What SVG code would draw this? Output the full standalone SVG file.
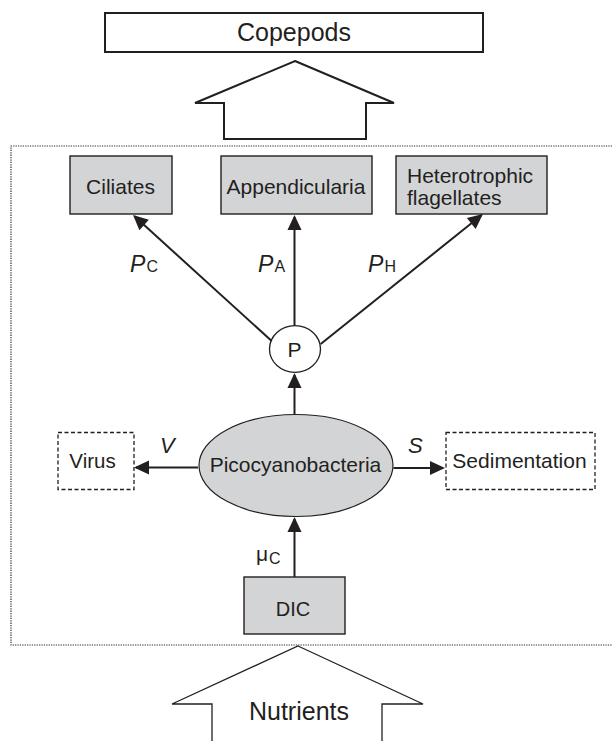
<svg xmlns="http://www.w3.org/2000/svg" width="612" height="741" viewBox="0 0 612 741">
<style>
text{font-family:"Liberation Sans",Arial,sans-serif;fill:#231f20}
.c{text-anchor:middle}
.gbox{fill:#d3d4d6;stroke:#231f20;stroke-width:1.4}
.dbox{fill:#fff;stroke:#231f20;stroke-width:1.3;stroke-dasharray:4 2.5}
.conn{stroke:#231f20;stroke-width:2;fill:none}
.it{font-style:italic}
</style>
<defs>
<marker id="ah" markerUnits="userSpaceOnUse" markerWidth="16" markerHeight="15" refX="13" refY="7" orient="auto" overflow="visible">
<path d="M0,0 L15,7 L0,14 z" fill="#231f20"/>
</marker>
</defs>
<rect width="612" height="741" fill="#fff"/>

<g id="boundary">
<path d="M612,146 H11 V645 H612" fill="none" stroke="#333" stroke-width="1.2" stroke-dasharray="1.3 1.1"/>
</g>

<g id="copepods">
<rect x="105" y="13" width="378" height="39" fill="#fff" stroke="#231f20" stroke-width="2"/>
<text x="294" y="41" class="c" font-size="25">Copepods</text>
</g>

<g id="up-arrow">
<path d="M295,61 L394,103 L366,103 L366,139 L224,139 L224,103 L195,103 Z" fill="#fff" stroke="#231f20" stroke-width="2" stroke-linejoin="miter"/>
</g>

<g id="ciliates">
<rect x="70" y="156" width="102" height="58" class="gbox"/>
<text x="120.5" y="194" class="c" font-size="21">Ciliates</text>
</g>

<g id="appendicularia">
<rect x="221" y="156" width="151" height="58" class="gbox"/>
<text x="296" y="194" class="c" font-size="21">Appendicularia</text>
</g>

<g id="heterotrophic-flagellates">
<rect x="396" y="156" width="151" height="58" class="gbox"/>
<text x="407" y="183" font-size="21">Heterotrophic</text>
<text x="407" y="205" font-size="21">flagellates</text>
</g>

<g id="p-node">
<ellipse cx="295" cy="349" rx="25.5" ry="23.3" fill="#fff" stroke="#231f20" stroke-width="1.3"/>
<text x="294.5" y="357" class="c" font-size="21">P</text>
</g>

<g id="picocyanobacteria">
<ellipse cx="296" cy="465.5" rx="97" ry="51" fill="#d3d4d6" stroke="#231f20" stroke-width="1.2"/>
<text x="295.5" y="472" class="c" font-size="21">Picocyanobacteria</text>
</g>

<g id="virus">
<rect x="58" y="432.5" width="76" height="57" class="dbox"/>
<text x="92.5" y="468" class="c" font-size="20.5">Virus</text>
</g>

<g id="sedimentation">
<rect x="446" y="432.5" width="149" height="57" class="dbox"/>
<text x="519.5" y="468" class="c" font-size="21">Sedimentation</text>
</g>

<g id="dic">
<rect x="244" y="577" width="101" height="57" class="gbox"/>
<text x="293" y="616" class="c" font-size="20">DIC</text>
</g>

<g id="nutrients">
<path d="M298,646 L423,704 L382,704 L382,745 L212,745 L212,704 L172,704 Z" fill="#fff" stroke="#231f20" stroke-width="1.3"/>
<text x="299" y="720" class="c" font-size="25">Nutrients</text>
</g>

<g id="connectors">
<line x1="271.7" y1="341" x2="134.5" y2="216.3" class="conn" marker-end="url(#ah)"/>
<line x1="294.5" y1="326" x2="294.5" y2="217" class="conn" marker-end="url(#ah)"/>
<line x1="320.7" y1="344" x2="481.4" y2="215.3" class="conn" marker-end="url(#ah)"/>
<line x1="294.5" y1="414" x2="294.5" y2="375" class="conn" marker-end="url(#ah)"/>
<line x1="198" y1="467.5" x2="136" y2="467.5" class="conn" marker-end="url(#ah)"/>
<line x1="393.5" y1="468" x2="443" y2="468" class="conn" marker-end="url(#ah)"/>
<line x1="294.5" y1="577" x2="294.5" y2="519" class="conn" marker-end="url(#ah)"/>
</g>

<g id="labels">
<text x="130" y="272" font-size="23" class="it">P</text><text x="146.5" y="272" font-size="16">C</text>
<text x="258" y="272" font-size="23" class="it">P</text><text x="274.5" y="272" font-size="16">A</text>
<text x="368" y="272" font-size="23" class="it">P</text><text x="384.5" y="272" font-size="16">H</text>
<text x="160" y="453" font-size="22" class="it">V</text>
<text x="408" y="453" font-size="22" class="it">S</text>
<text x="256" y="561" font-size="21">μ</text><text x="269" y="564" font-size="16">C</text>
</g>
</svg>
